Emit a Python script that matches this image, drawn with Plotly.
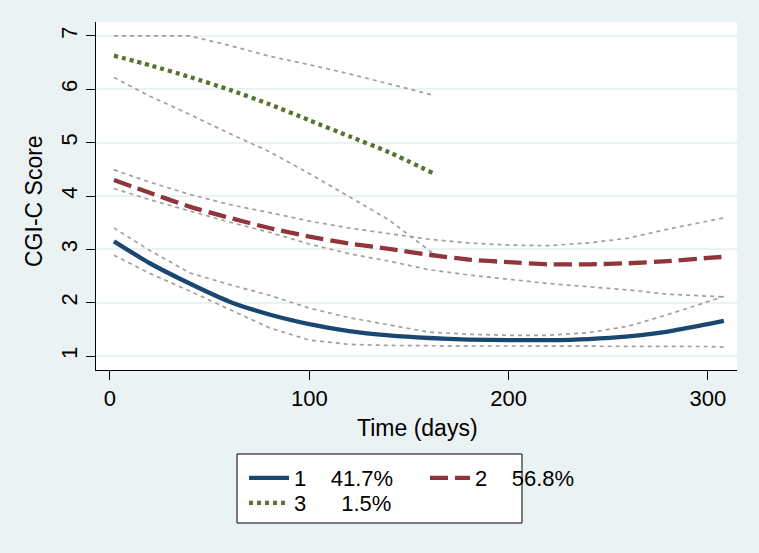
import plotly.graph_objects as go

# ---- data ----
days = [2, 20, 40, 60, 80, 100, 120, 140, 160, 180, 200, 220, 240, 260, 280, 300, 308]
mean1 = [3.15, 2.74, 2.36, 2.02, 1.78, 1.60, 1.47, 1.39, 1.34, 1.31, 1.30, 1.30, 1.32, 1.37, 1.46, 1.60, 1.66]
upper1 = [3.40, 2.98, 2.56, 2.34, 2.14, 1.90, 1.72, 1.58, 1.45, 1.41, 1.39, 1.39, 1.44, 1.56, 1.78, 2.02, 2.12]
lower1 = [2.89, 2.55, 2.22, 1.87, 1.53, 1.30, 1.22, 1.20, 1.19, 1.19, 1.19, 1.19, 1.19, 1.19, 1.18, 1.18, 1.17]

mean2 = [4.30, 4.06, 3.80, 3.59, 3.40, 3.24, 3.11, 3.01, 2.90, 2.81, 2.76, 2.72, 2.72, 2.74, 2.78, 2.84, 2.86]
upper2 = [4.49, 4.26, 4.03, 3.84, 3.69, 3.53, 3.40, 3.30, 3.19, 3.12, 3.08, 3.07, 3.12, 3.21, 3.38, 3.53, 3.59]
lower2 = [4.14, 3.93, 3.72, 3.51, 3.32, 3.10, 2.92, 2.78, 2.62, 2.52, 2.44, 2.36, 2.30, 2.24, 2.16, 2.12, 2.11]

days3 = [2, 20, 40, 60, 80, 100, 120, 140, 162]
mean3 = [6.63, 6.45, 6.23, 5.99, 5.72, 5.42, 5.12, 4.82, 4.43]
upper3 = [7.00, 7.00, 7.00, 6.82, 6.62, 6.46, 6.29, 6.10, 5.89]
lower3 = [6.22, 5.87, 5.53, 5.17, 4.83, 4.42, 3.99, 3.55, 2.93]

group_labels = ["1", "2", "3"]
group_shares = ["41.7%", "56.8%", "1.5%"]
group_gaps = ["\u00a0" * 4, "\u00a0" * 4, "\u00a0" * 5 + "\u2009"]

x_ticks = [0, 100, 200, 300]
y_ticks = [1, 2, 3, 4, 5, 6, 7]

FONT = "Liberation Sans, Arial, sans-serif"
BG = "#eaf2f3"
CI_COLOR = "#a0a0a0"
colors = ["#1a476f", "#90353b", "#55752f"]
dashes = ["solid", "18px,7px", "4px,4px"]

fig = go.Figure()

ci_sets = [(days, upper1), (days, lower1), (days, upper2), (days, lower2),
           (days3, upper3), (days3, lower3)]
for xs, ys in ci_sets:
    fig.add_trace(go.Scatter(x=xs, y=ys, mode="lines", showlegend=False,
                             hoverinfo="skip",
                             line=dict(color=CI_COLOR, width=1.7, dash="4px,4px")))

mains = [(days, mean1), (days, mean2), (days3, mean3)]
legends = ["legend", "legend", "legend2"]
for i, (xs, ys) in enumerate(mains):
    fig.add_trace(go.Scatter(
        x=xs, y=ys, mode="lines",
        name=group_labels[i] + group_gaps[i] + group_shares[i],
        legend=legends[i],
        line=dict(color=colors[i], width=4.3, dash=dashes[i], shape="spline", smoothing=0.6)))

# plot area in pixels: x 96..737, y 22..370
L, R, T, B = 96, 737, 22, 370
W, H = 759, 553
pw, ph = R - L, B - T

def px(x):
    return (x - L) / pw

def py(y):
    return (B - y) / ph

fig.update_layout(
    width=W, height=H,
    margin=dict(l=L, r=W - R, t=T, b=H - B),
    paper_bgcolor=BG, plot_bgcolor="white",
    font=dict(family=FONT, size=22, color="black"),
    xaxis=dict(range=[-7, 314.6], tickvals=x_ticks, ticks="outside", ticklen=9,
               tickwidth=1, tickcolor="black", showline=True, linecolor="black",
               linewidth=1, showgrid=False, zeroline=False,
               tickfont=dict(size=22)),
    yaxis=dict(range=[0.74, 7.26], tickvals=y_ticks, ticks="outside", ticklen=9,
               tickwidth=1, tickcolor="black", showline=True, linecolor="black",
               linewidth=1, showgrid=True, gridcolor=BG, gridwidth=1.5,
               zeroline=False, tickangle=-90, tickfont=dict(size=22)),
    legend=dict(orientation="h", x=px(244), y=py(457), xanchor="left", yanchor="top",
                bgcolor="rgba(0,0,0,0)", borderwidth=0, entrywidth=126,
                itemwidth=40, font=dict(size=22), tracegroupgap=0),
    legend2=dict(orientation="h", x=px(244), y=py(482), xanchor="left", yanchor="top",
                 bgcolor="rgba(0,0,0,0)", borderwidth=0, itemwidth=40,
                 font=dict(size=22)),
    shapes=[dict(type="rect", xref="paper", yref="paper",
                 x0=px(237), x1=px(522), y0=py(523), y1=py(454),
                 fillcolor="white", line=dict(color="black", width=1), layer="below")],
    annotations=[
        dict(text="Time (days)", xref="paper", yref="paper", x=px(417), y=py(428),
             xanchor="center", yanchor="middle", showarrow=False, font=dict(size=23)),
        dict(text="CGI-C Score", xref="paper", yref="paper", x=px(34), y=py(201),
             xanchor="center", yanchor="middle", showarrow=False, textangle=-90,
             font=dict(size=23)),
    ],
)

fig.write_html("out.html",
               config={"displayModeBar": False},
               post_script="document.body.style.margin='0';document.body.style.padding='0';")
